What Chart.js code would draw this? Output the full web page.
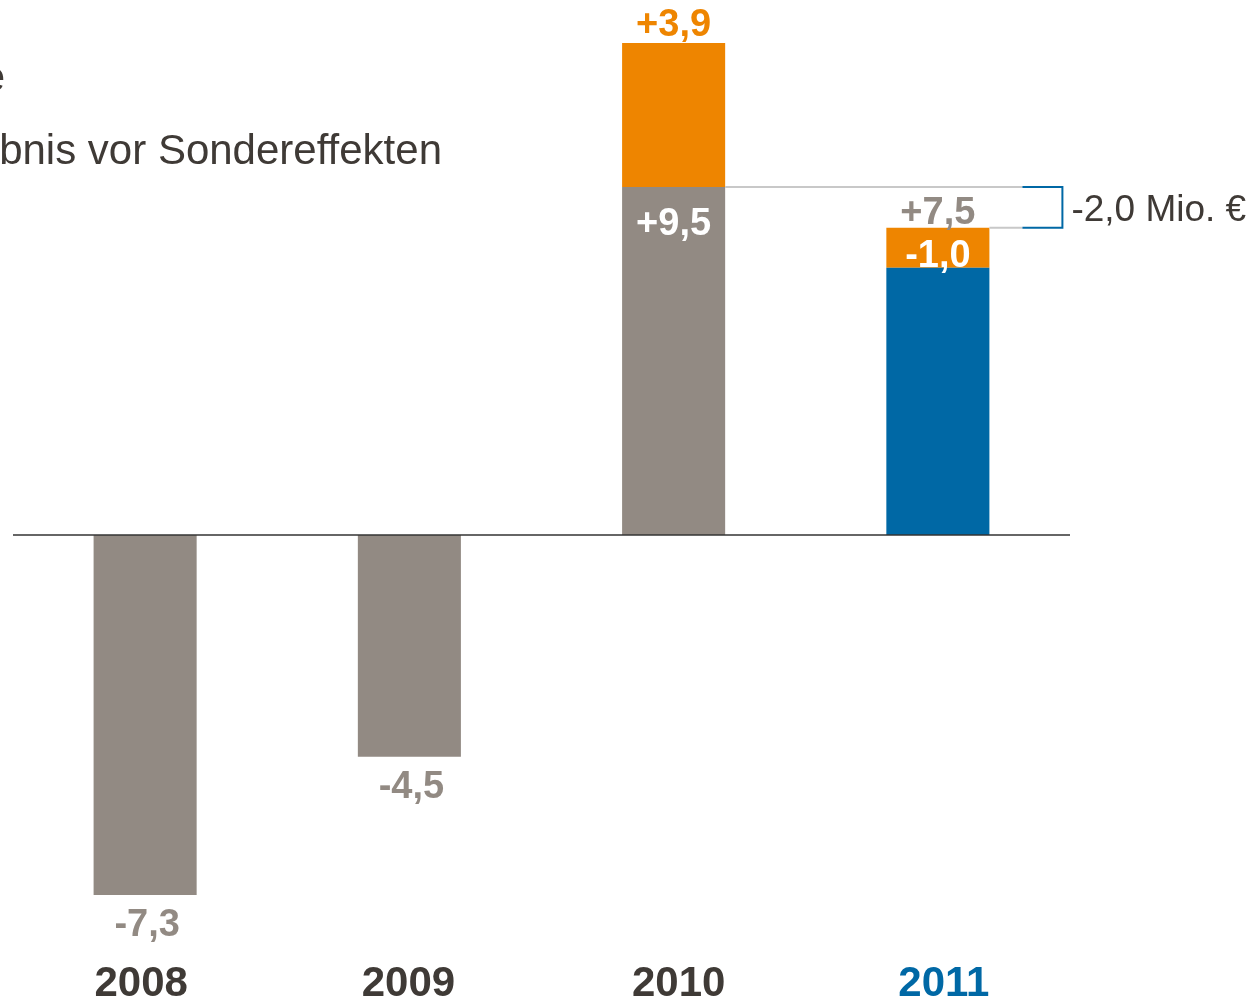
<!DOCTYPE html>
<html lang="de">
<head>
<meta charset="utf-8">
<title>Ergebnis vor Sondereffekten</title>
<script src="https://cdn.jsdelivr.net/npm/chart.js@4.4.1/dist/chart.umd.min.js"></script>
<style>
  html, body { margin: 0; padding: 0; background: #ffffff; }
  #wrap { position: relative; width: 1257px; height: 1002px; }
</style>
</head>
<body>
<div id="wrap"><canvas id="ergebnisChart"></canvas></div>
<script>
// Jahre
const years = ['2008', '2009', '2010', '2011'];

// Balkenhöhen (Grafik ist nicht maßstabsgetreu)
const greyValues = [-7.3, -4.5, 7.06, null];
const blueValues = [null, null, null, 5.42];
const orangeValues = [null, null, 2.92, 0.81];

// Beschriftungen
const greyLabels = ['-7,3', '-4,5', '+9,5', null];
const orangeLabels = [null, null, '+3,9', '-1,0'];
const totalLabel2011 = '+7,5';
const diffLabel = '-2,0 Mio. €';
const legendTop = 'Sondereffekte';
const legendBottom = 'Ergebnis vor Sondereffekten';

const GREY = '#928a83';
const ORANGE = '#ee8500';
const BLUE = '#0068a5';
const DARK = '#3f3a36';
const FONT = '"Liberation Sans", Arial, sans-serif';

// kleine Verschiebung der Jahreszahlen wie im Original
const yearShift = [-4, -1, 5, 6];

const labelPlugin = {
  id: 'labelPlugin',
  afterDatasetsDraw(chart) {
    const ctx = chart.ctx;
    const area = chart.chartArea;
    const y = chart.scales.y;
    const greyMeta = chart.getDatasetMeta(0);
    const orangeMeta = chart.getDatasetMeta(2);

    ctx.save();

    // Nulllinie
    const y0 = y.getPixelForValue(0);
    ctx.strokeStyle = '#333333';
    ctx.lineWidth = 1.5;
    ctx.beginPath();
    ctx.moveTo(area.left, y0);
    ctx.lineTo(area.right, y0);
    ctx.stroke();

    // Verbindungslinien + Klammer
    const bar2010 = greyMeta.data[2];
    const bar2011 = orangeMeta.data[3];
    const yTop = y.getPixelForValue(greyValues[2]);
    const yLow = y.getPixelForValue(blueValues[3] + orangeValues[3]);
    const xStart = bar2010.x + bar2010.width / 2;
    const xEnd2011 = bar2011.x + bar2011.width / 2;
    const xBracket = xEnd2011 + 33;
    const xBracketEnd = xBracket + 40;
    ctx.strokeStyle = '#c8c8c8';
    ctx.lineWidth = 2;
    ctx.beginPath();
    ctx.moveTo(xStart, yTop);
    ctx.lineTo(xBracket, yTop);
    ctx.moveTo(xEnd2011, yLow);
    ctx.lineTo(xBracket, yLow);
    ctx.stroke();
    ctx.strokeStyle = BLUE;
    ctx.beginPath();
    ctx.moveTo(xBracket, yTop);
    ctx.lineTo(xBracketEnd, yTop);
    ctx.lineTo(xBracketEnd, yLow);
    ctx.lineTo(xBracket, yLow);
    ctx.stroke();

    ctx.textAlign = 'left';
    ctx.textBaseline = 'middle';
    ctx.fillStyle = DARK;
    ctx.font = '37px ' + FONT;
    ctx.fillText(diffLabel, xBracketEnd + 9, (yTop + yLow) / 2 + 3);

    // Werte
    ctx.textAlign = 'center';
    ctx.font = 'bold 38px ' + FONT;
    greyLabels.forEach((txt, i) => {
      if (!txt) return;
      const el = greyMeta.data[i];
      if (greyValues[i] < 0) {
        ctx.fillStyle = GREY;
        ctx.fillText(txt, el.x + 2, y.getPixelForValue(greyValues[i]) + 31);
      } else {
        ctx.fillStyle = '#ffffff';
        ctx.fillText(txt, el.x, y.getPixelForValue(greyValues[i]) + 38);
      }
    });

    // +3,9 über dem Balken
    const o2010 = orangeMeta.data[2];
    ctx.fillStyle = ORANGE;
    ctx.fillText(orangeLabels[2], o2010.x, o2010.y - 17);

    // 2011
    ctx.fillStyle = GREY;
    ctx.fillText(totalLabel2011, bar2011.x, bar2011.y - 14);
    ctx.fillStyle = '#ffffff';
    ctx.fillText(orangeLabels[3], bar2011.x, bar2011.y + 29);

    // Jahre
    ctx.font = 'bold 42px ' + FONT;
    years.forEach((yr, i) => {
      const x = chart.scales.x.getPixelForValue(i) + yearShift[i];
      ctx.fillStyle = i === 3 ? BLUE : DARK;
      ctx.fillText(yr, x, 984);
    });

    // Legendentexte (links abgeschnitten)
    ctx.textAlign = 'right';
    ctx.font = '42px ' + FONT;
    ctx.fillStyle = DARK;
    ctx.fillText(legendTop, 5, 79);
    ctx.fillText(legendBottom, 442, 152);

    ctx.restore();
  }
};

new Chart(document.getElementById('ergebnisChart'), {
  type: 'bar',
  data: {
    labels: years,
    datasets: [
      { label: 'Ergebnis', data: greyValues, backgroundColor: GREY, stack: 's' },
      { label: 'Ergebnis 2011', data: blueValues, backgroundColor: BLUE, stack: 's' },
      { label: 'Sondereffekte', data: orangeValues, backgroundColor: ORANGE, stack: 's' }
    ]
  },
  options: {
    responsive: true,
    maintainAspectRatio: false,
    animation: false,
    datasets: {
      bar: { barPercentage: 0.39, categoryPercentage: 1.0, borderWidth: 0 }
    },
    layout: { padding: { left: 13, right: 187, top: 42, bottom: 72.6 } },
    scales: {
      x: { display: false, stacked: true },
      y: { display: false, stacked: true, min: -8, max: 10 }
    },
    plugins: {
      legend: { display: false },
      tooltip: { enabled: false }
    }
  },
  plugins: [labelPlugin]
});
</script>
</body>
</html>
